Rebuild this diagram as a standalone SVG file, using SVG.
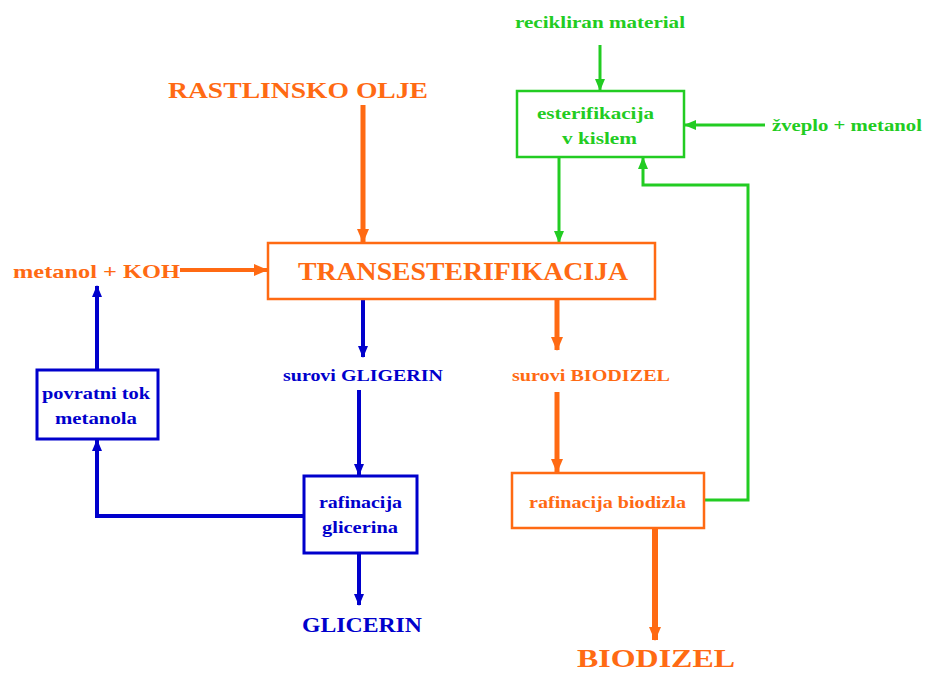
<svg xmlns="http://www.w3.org/2000/svg" width="925" height="675" viewBox="0 0 925 675">
<defs>
<marker id="ao" markerUnits="userSpaceOnUse" markerWidth="14" markerHeight="14" viewBox="0 0 14 14" refX="13" refY="7" orient="auto"><path d="M0,1 L14,7 L0,13 z" fill="#ff6a13"/></marker>
<marker id="ab" markerUnits="userSpaceOnUse" markerWidth="12" markerHeight="12" viewBox="0 0 12 12" refX="11" refY="6" orient="auto"><path d="M0,1 L12,6 L0,11 z" fill="#0000cc"/></marker>
<marker id="ag" markerUnits="userSpaceOnUse" markerWidth="12" markerHeight="12" viewBox="0 0 12 12" refX="11" refY="6" orient="auto"><path d="M0,1 L12,6 L0,11 z" fill="#22cc22"/></marker>
</defs>
<style>
text{font-family:"Liberation Serif","Times New Roman",serif;font-weight:bold}
.o{fill:#ff6a13}.b{fill:#0000cc}.g{fill:#22cc22}
.bo{fill:#fff;stroke:#ff6a13;stroke-width:2.5}
.bb{fill:#fff;stroke:#0000cc;stroke-width:3}
.bg{fill:#fff;stroke:#22cc22;stroke-width:2.5}
.lo{fill:none;stroke:#ff6a13;stroke-width:5}
.lb{fill:none;stroke:#0000cc;stroke-width:4}
.lg{fill:none;stroke:#22cc22;stroke-width:3}
</style>
<g id="connectors">
<path class="lo" d="M363,105 V242" marker-end="url(#ao)"/>
<path class="lo" d="M180,270 H267" marker-end="url(#ao)" style="stroke-width:4"/>
<path class="lo" d="M557,299 V350" marker-end="url(#ao)"/>
<path class="lo" d="M557,392 V472" marker-end="url(#ao)"/>
<path class="lo" d="M655,528 V640" marker-end="url(#ao)" style="stroke-width:6"/>
<path class="lg" d="M600,45 V90" marker-end="url(#ag)"/>
<path class="lg" d="M765,125 H685" marker-end="url(#ag)"/>
<path class="lg" d="M559,157 V242" marker-end="url(#ag)"/>
<path class="lg" d="M704,500 H748 V185 H643 V158" marker-end="url(#ag)"/>
<path class="lb" d="M363,299 V357" marker-end="url(#ab)"/>
<path class="lb" d="M359,390 V475" marker-end="url(#ab)"/>
<path class="lb" d="M359,553 V605" marker-end="url(#ab)"/>
<path class="lb" d="M304,516 H97 V440" marker-end="url(#ab)"/>
<path class="lb" d="M97,370 V286" marker-end="url(#ab)"/>
</g>
<g id="rastlinsko"><text x="168" y="98" class="o" font-size="24" textLength="260" lengthAdjust="spacingAndGlyphs">RASTLINSKO OLJE</text></g>
<g id="recikliran"><text x="515" y="28" class="g" font-size="17" textLength="170" lengthAdjust="spacingAndGlyphs">recikliran material</text></g>
<g id="zveplo"><text x="772" y="131" class="g" font-size="17" textLength="150" lengthAdjust="spacingAndGlyphs">žveplo + metanol</text></g>
<g id="esterifikacija"><rect class="bg" x="517" y="91" width="167" height="66"/><text x="537" y="119" class="g" font-size="17" textLength="117" lengthAdjust="spacingAndGlyphs">esterifikacija</text><text x="562" y="144" class="g" font-size="17" textLength="75" lengthAdjust="spacingAndGlyphs">v kislem</text></g>
<g id="metanolkoh"><text x="13" y="278" class="o" font-size="19" textLength="167" lengthAdjust="spacingAndGlyphs">metanol + KOH</text></g>
<g id="transesterifikacija"><rect class="bo" x="268" y="243" width="387" height="56"/><text x="298" y="280" class="o" font-size="25" textLength="330" lengthAdjust="spacingAndGlyphs">TRANSESTERIFIKACIJA</text></g>
<g id="surovigligerin"><text x="283" y="381" class="b" font-size="17" textLength="160" lengthAdjust="spacingAndGlyphs">surovi GLIGERIN</text></g>
<g id="surovibiodizel"><text x="512" y="381" class="o" font-size="17" textLength="158" lengthAdjust="spacingAndGlyphs">surovi BIODIZEL</text></g>
<g id="povratni"><rect class="bb" x="37" y="370" width="121" height="69"/><text x="42" y="399" class="b" font-size="16" textLength="108" lengthAdjust="spacingAndGlyphs">povratni tok</text><text x="55" y="424" class="b" font-size="16" textLength="82" lengthAdjust="spacingAndGlyphs">metanola</text></g>
<g id="rafglicerina"><rect class="bb" x="304" y="476" width="113" height="77"/><text x="319" y="508" class="b" font-size="17" textLength="83" lengthAdjust="spacingAndGlyphs">rafinacija</text><text x="322" y="533" class="b" font-size="17" textLength="76" lengthAdjust="spacingAndGlyphs">glicerina</text></g>
<g id="rafbiodizla"><rect class="bo" x="512" y="473" width="192" height="55"/><text x="529" y="508" class="o" font-size="17" textLength="157" lengthAdjust="spacingAndGlyphs">rafinacija biodizla</text></g>
<g id="glicerin"><text x="302" y="632" class="b" font-size="21" textLength="120" lengthAdjust="spacingAndGlyphs">GLICERIN</text></g>
<g id="biodizel"><text x="577" y="667" class="o" font-size="26" textLength="158" lengthAdjust="spacingAndGlyphs">BIODIZEL</text></g>
</svg>
